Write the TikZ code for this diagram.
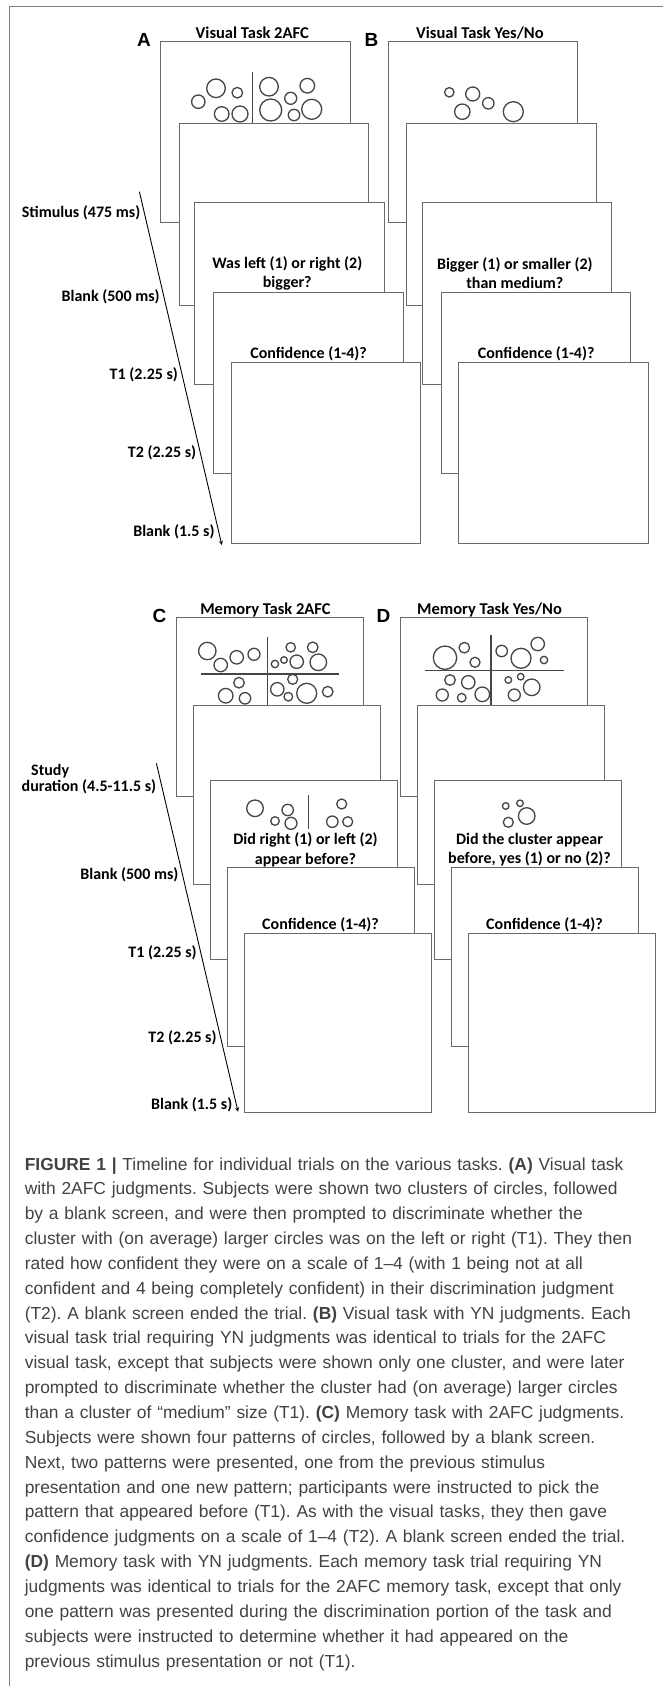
\documentclass[tikz,border=0pt]{standalone}
\usepackage{fontspec}
\setmainfont{Liberation Sans}
\newfontfamily\calfont{Carlito}
\usetikzlibrary{positioning,calc}
\definecolor{boxgray}{HTML}{6A6A6A}
\definecolor{ringgray}{HTML}{454545}
\definecolor{capgray}{HTML}{424242}
\tikzset{
	scr/.style={draw=boxgray,line width=1pt,fill=white,minimum width=189.5pt,minimum height=181.5pt,anchor=north west,inner sep=0pt},
	ring/.style={draw=ringgray,line width=1.3pt},
	divd/.style={draw=ringgray,line width=1.2pt},
	qtxt/.style={font=\calfont\bfseries\fontsize{16}{19.5}\selectfont,align=center,inner sep=0pt},
	lbl/.style={font=\calfont\bfseries\fontsize{16}{16.6}\selectfont,anchor=east,inner sep=0pt,xshift=-4pt},
	ttl/.style={font=\calfont\bfseries\fontsize{16.5}{19}\selectfont,anchor=base,inner sep=0pt},
	ltr/.style={font=\bfseries\fontsize{19}{22}\selectfont,anchor=base east,inner sep=0pt},
	tline/.style={line width=0.9pt,-stealth},
	edge/.style={draw=gray,line width=0.8pt}
}

\begin{document}
\frenchspacing
\begin{tikzpicture}[x=1pt,y=-1pt]
	\useasboundingbox (0,0) rectangle (663,1686);
	\draw[edge] (9.5,1686) |- (663,6);

	\foreach \p/\dx in {A/0,B/227.6}{
		\foreach \i/\x/\y in {1/160/40.7,2/178.5/123.3,3/194/202.3,4/213.3/291.7,5/230.8/361.7}{
			\node[scr] (\p\i) at (\x+\dx,\y) {};
		}
	}
	\foreach \p/\dx in {C/0,D/224}{
		\foreach \i/\x/\y in {1/175.5/616.7,2/193.4/705,3/209.5/780,4/226.5/866.7,5/243.5/933.3}{
			\node[scr,minimum width=187pt,minimum height=179pt] (\p\i) at (\x+\dx,\y) {};
		}
	}

	\node[ttl] (tA) at ([xshift=-3pt,yshift=2.5pt]A1.north) {Visual Task 2AFC};
	\node[ttl] (tB) at ([xshift=-3pt,yshift=2.5pt]B1.north) {Visual Task Yes/No};
	\node[ttl] (tC) at ([xshift=-4pt,yshift=2.5pt]C1.north) {Memory Task 2AFC};
	\node[ttl] (tD) at ([xshift=-4pt,yshift=2.5pt]D1.north) {Memory Task Yes/No};
	\foreach \p in {A,B,C,D}{
		\node[ltr] (l\p) at ([xshift=-9pt,yshift=-6pt]\p1.north west) {\p};
	}

	\coordinate (dA) at (252.7,72);
	\draw[divd] (dA) -- (dA |- A2.north);
	\foreach \x/\y/\r in {198.3/101.7/6.7,216/88.3/9.3,237.3/92.7/5.3,221.7/114/7.3,240/114/8,
		269/86.7/9.3,307.3/85.7/7.3,290.7/98.3/6,270.7/110/11,294/115/5.7,311.7/109.3/10}{
		\draw[ring] (\x,\y) circle[radius=\r];
	}
	\foreach \x/\y/\r in {449.3/92.3/4.7,472.7/94/7,488.3/103.3/5.7,462.3/111.7/7.7,513.3/111.7/10}{
		\draw[ring] (\x,\y) circle[radius=\r];
	}

	\coordinate (hC) at (200.7,674);
	\coordinate (hC') at (339,674);
	\coordinate (dC) at (267.3,636.7);
	\draw[divd] (hC) -- (hC');
	\draw[divd] (dC) -- (dC |- C2.north);
	\foreach \x/\y/\r in {207.3/651/8.7,220.7/665/6.7,236.7/657.3/6.7,254/654.3/6,
		290.7/647.3/4.7,312.7/647.3/5.3,275/664/3.7,284/660/3.3,296.7/661.7/6.7,318.3/662.3/8.3,
		239/682.7/5.3,225.7/695.7/7.3,245/698.3/5.7,
		292.7/679.3/5,277.3/689.3/6.7,288.3/696.7/4.3,306.7/693.3/10,327.7/691.7/5.3}{
		\draw[ring] (\x,\y) circle[radius=\r];
	}
	\coordinate (hD) at (425,670.7);
	\coordinate (hD') at (564,670.7);
	\coordinate (dD) at (491,635);
	\draw[divd] (hD) -- (hD');
	\draw[divd] (dD) -- (dD |- D2.north);
	\foreach \x/\y/\r in {445/657.7/11.7,464.3/647.7/5.3,475/662.3/5,
		501.7/651/5.7,521/658.3/10,537.7/644/6.7,544/660/3.7,
		450/680/5.3,468.3/682.3/6.7,442.3/695/6,461.7/697.7/4.3,482.3/694.3/7.3,
		508.3/680/3.3,520.7/676.7/3.3,531.7/687.3/8.3,514.3/695/6}{
		\draw[ring] (\x,\y) circle[radius=\r];
	}

	\coordinate (dC3) at (308.3,795);
	\coordinate (dC3') at (308.3,829);
	\draw[divd] (dC3) -- (dC3');
	\foreach \x/\y/\r in {255/808.3/8.3,275/821/4.3,287.7/810/5.7,291/823.3/6,
		341.7/804/5,332.3/821.7/5.7,347.7/821.7/5,
		505.7/806/3.3,520/803.3/3.3,508.3/822.3/5,526.7/816/8.3}{
		\draw[ring] (\x,\y) circle[radius=\r];
	}

	\node[qtxt] (qA) at ($(A3.north)+(-2,71)$) {Was left (1) or right (2)\\bigger?};
	\node[qtxt] (qB) at ($(B3.north)+(-2,71)$) {Bigger (1) or smaller (2)\\than medium?};
	\node[qtxt] (qC) at ($(C3.north)+(2,69.7)$) {Did right (1) or left (2)\\appear before?};
	\node[qtxt] (qD) at ($(D3.north)+(2,69.7)$) {Did the cluster appear\\before, yes (1) or no (2)?};
	\foreach \p/\dy in {A/61.6,B/61.6,C/58.3,D/58.3}{
		\node[qtxt] (c\p) at ($(\p4.north)+(0,\dy)$) {Confidence (1-4)?};
	}

	\coordinate (sA) at (139.4,191.7);
	\coordinate (eA) at (221.8,545);
	\draw[tline] (sA) -- (eA);
	\foreach \t/\s in {0.061/Stimulus (475 ms),0.297/Blank (500 ms),0.519/T1 (2.25 s),0.740/T2 (2.25 s),0.962/Blank (1.5 s)}{
		\path (sA) -- (eA) node[lbl,pos=\t] {\s};
	}
	\coordinate (sC) at (156.4,763.3);
	\coordinate (eC) at (238,1111.7);
	\draw[tline] (sC) -- (eC);
	\path (sC) -- (eC) node[lbl,pos=0.048] (study) {\renewcommand\arraystretch{0.86}\begin{tabular}{@{}c@{}l@{}}Study&\\duration&\ (4.5-11.5 s)\end{tabular}};
	\foreach \t/\s in {0.321/Blank (500 ms),0.545/T1 (2.25 s),0.789/T2 (2.25 s),0.981/Blank (1.5 s)}{
		\path (sC) -- (eC) node[lbl,pos=\t] {\s};
	}

	\node[anchor=base west,inner sep=0pt,text width=640pt,align=left,text=capgray,font=\fontsize{17.4}{24.85}\selectfont] (cap) at (24.6,1170) {%
\textbf{FIGURE 1 |} Timeline for individual trials on the various tasks. \textbf{(A)} Visual task\\
with 2AFC judgments. Subjects were shown two clusters of circles, followed\\
by a blank screen, and were then prompted to discriminate whether the\\
cluster with (on average) larger circles was on the left or right (T1). They then\\
rated how confident they were on a scale of 1--4 (with 1 being not at all\\
confident and 4 being completely confident) in their discrimination judgment\\
(T2). A blank screen ended the trial. \textbf{(B)} Visual task with YN judgments. Each\\
visual task trial requiring YN judgments was identical to trials for the 2AFC\\
visual task, except that subjects were shown only one cluster, and were later\\
prompted to discriminate whether the cluster had (on average) larger circles\\
than a cluster of ``medium'' size (T1). \textbf{(C)} Memory task with 2AFC judgments.\\
Subjects were shown four patterns of circles, followed by a blank screen.\\
Next, two patterns were presented, one from the previous stimulus\\
presentation and one new pattern; participants were instructed to pick the\\
pattern that appeared before (T1). As with the visual tasks, they then gave\\
confidence judgments on a scale of 1--4 (T2). A blank screen ended the trial.\\
\textbf{(D)} Memory task with YN judgments. Each memory task trial requiring YN\\
judgments was identical to trials for the 2AFC memory task, except that only\\
one pattern was presented during the discrimination portion of the task and\\
subjects were instructed to determine whether it had appeared on the\\
previous stimulus presentation or not (T1).};
\end{tikzpicture}
\end{document}
